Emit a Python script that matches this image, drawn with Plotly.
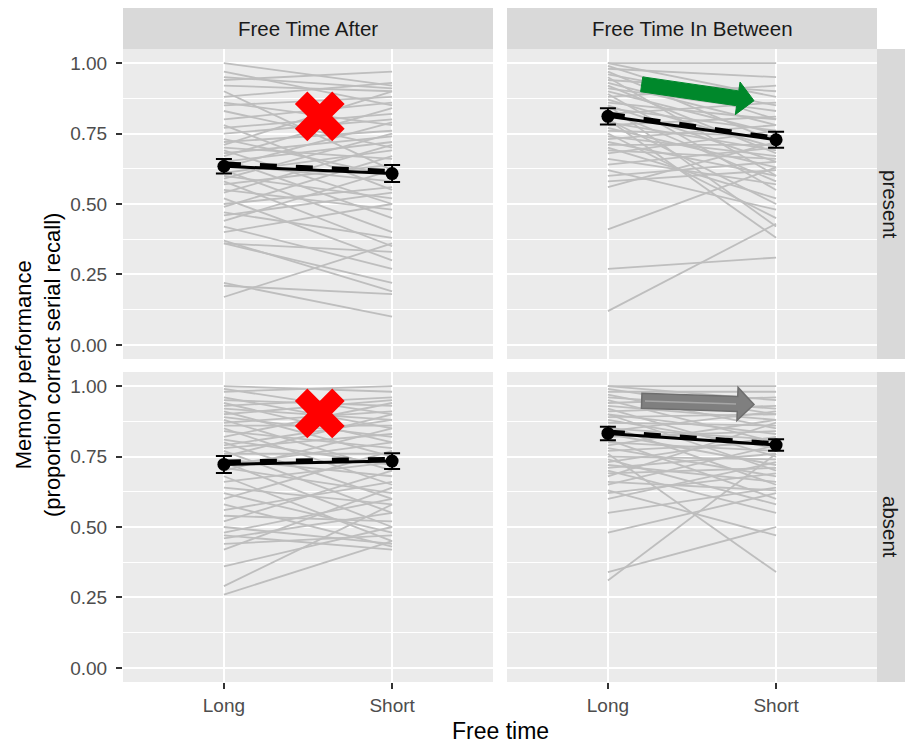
import math
import plotly.graph_objects as go

# ---------------- data ----------------
free_time = ["Long", "Short"]
conditions = ["Free Time After", "Free Time In Between"]
distractor = ["present", "absent"]
y_ticks = [0.0, 0.25, 0.5, 0.75, 1.0]
y_ticktext = ["0.00", "0.25", "0.50", "0.75", "1.00"]
y_minor = [0.125, 0.375, 0.625, 0.875]

# individual participants: proportion correct (Long, Short)
after_present_long = [1.00, 0.97, 0.95, 0.94, 0.92, 0.90, 0.88, 0.86, 0.85, 0.83, 0.80, 0.78, 0.77, 0.75, 0.73,
                      0.72, 0.71, 0.70, 0.69, 0.68, 0.67, 0.66, 0.65, 0.64, 0.63, 0.62, 0.61, 0.60, 0.59, 0.58,
                      0.57, 0.55, 0.54, 0.52, 0.50, 0.49, 0.47, 0.46, 0.44, 0.42, 0.40, 0.37, 0.36, 0.36, 0.21,
                      0.17, 0.22]
after_present_short = [0.92, 0.85, 0.91, 0.97, 0.90, 0.62, 0.93, 0.78, 0.88, 0.70, 0.86, 0.55, 0.82, 0.80, 0.60,
                       0.76, 0.90, 0.66, 0.50, 0.74, 0.84, 0.45, 0.72, 0.58, 0.79, 0.40, 0.69, 0.52, 0.75, 0.35,
                       0.64, 0.48, 0.71, 0.30, 0.56, 0.67, 0.38, 0.54, 0.62, 0.27, 0.50, 0.19, 0.33, 0.22, 0.18,
                       0.36, 0.10]

between_present_long = [1.00, 1.00, 0.99, 0.98, 0.97, 0.96, 0.95, 0.94, 0.93, 0.92, 0.91, 0.90, 0.89, 0.88, 0.87,
                        0.86, 0.85, 0.84, 0.83, 0.82, 0.81, 0.80, 0.79, 0.78, 0.77, 0.76, 0.75, 0.74, 0.73, 0.72,
                        0.71, 0.70, 0.69, 0.68, 0.66, 0.64, 0.62, 0.60, 0.58, 0.56, 0.41, 0.27, 0.12, 0.80, 0.85]
between_present_short = [1.00, 0.88, 0.80, 0.95, 0.72, 0.85, 0.60, 0.90, 0.78, 0.68, 0.83, 0.75, 0.55, 0.92, 0.70,
                         0.80, 0.65, 0.76, 0.58, 0.86, 0.73, 0.50, 0.69, 0.81, 0.63, 0.74, 0.45, 0.67, 0.78, 0.60,
                         0.71, 0.52, 0.66, 0.76, 0.57, 0.70, 0.48, 0.65, 0.62, 0.72, 0.63, 0.31, 0.43, 0.38, 0.42]

after_absent_long = [1.00, 0.99, 0.98, 0.96, 0.95, 0.94, 0.93, 0.92, 0.91, 0.90, 0.89, 0.88, 0.87, 0.86, 0.85,
                     0.84, 0.82, 0.81, 0.80, 0.79, 0.78, 0.77, 0.76, 0.75, 0.74, 0.73, 0.72, 0.71, 0.70, 0.68,
                     0.66, 0.64, 0.62, 0.60, 0.58, 0.56, 0.54, 0.52, 0.50, 0.48, 0.47, 0.46, 0.44, 0.42, 0.36,
                     0.29, 0.26]
after_absent_short = [0.98, 0.90, 1.00, 0.85, 0.93, 0.80, 0.96, 0.88, 0.75, 0.95, 0.82, 0.70, 0.91, 0.86, 0.65,
                      0.78, 0.94, 0.72, 0.60, 0.88, 0.83, 0.55, 0.76, 0.90, 0.68, 0.50, 0.80, 0.62, 0.85, 0.45,
                      0.73, 0.58, 0.48, 0.77, 0.43, 0.66, 0.52, 0.70, 0.44, 0.60, 0.42, 0.55, 0.47, 0.64, 0.50,
                      0.58, 0.45]

between_absent_long = [1.00, 1.00, 0.99, 0.98, 0.97, 0.96, 0.95, 0.94, 0.93, 0.92, 0.91, 0.90, 0.90, 0.89, 0.88,
                       0.87, 0.86, 0.85, 0.84, 0.83, 0.82, 0.81, 0.80, 0.79, 0.78, 0.77, 0.76, 0.75, 0.74, 0.73,
                       0.72, 0.71, 0.70, 0.69, 0.68, 0.66, 0.65, 0.63, 0.62, 0.60, 0.55, 0.48, 0.34, 0.31]
between_absent_short = [1.00, 0.95, 0.90, 0.98, 0.85, 0.92, 0.80, 0.96, 0.88, 0.75, 0.93, 0.83, 0.70, 0.90, 0.78,
                        0.86, 0.65, 0.81, 0.91, 0.72, 0.84, 0.60, 0.77, 0.88, 0.68, 0.80, 0.34, 0.74, 0.58, 0.82,
                        0.66, 0.76, 0.55, 0.71, 0.87, 0.63, 0.79, 0.47, 0.69, 0.73, 0.64, 0.62, 0.50, 0.76]

# condition means (Long, Short), standard errors, and model fit (dashed)
mean_after_present = [0.634, 0.608]
se_after_present = [0.026, 0.030]
fit_after_present = [0.643, 0.616]
mean_between_present = [0.811, 0.728]
se_between_present = [0.029, 0.028]
fit_between_present = [0.820, 0.734]
mean_after_absent = [0.722, 0.734]
se_after_absent = [0.030, 0.028]
fit_after_absent = [0.731, 0.741]
mean_between_absent = [0.832, 0.791]
se_between_absent = [0.024, 0.020]
fit_between_absent = [0.838, 0.796]

# red "no effect" crosses (x position between Long/Short, y value)
cross_x = [1.57, 1.57]
cross_y = [0.811, 0.903]

# ---------------- layout geometry (pixels) ----------------
W, H = 905, 744
ML, MR, MT, MB = 123, 0, 8, 62
PW, PH = W - ML - MR, H - MT - MB


def px(x):
    return (x - ML) / PW


def py(y):
    return (H - MB - y) / PH


col_dom = [[px(123), px(493)], [px(507), px(877)]]
row_dom = [[py(359), py(49)], [py(682), py(372)]]
strip_right = [px(877), px(905)]
strip_top = [py(49), py(8)]

FONT = "Liberation Sans, Arial, sans-serif"
GREY_LINE = "rgb(190,190,190)"
TICK_SIZE = 19
STRIP_SIZE = 20.5
TITLE_SIZE = 22

panels = [
    ("x", "y", after_present_long, after_present_short, mean_after_present, se_after_present, fit_after_present),
    ("x2", "y2", between_present_long, between_present_short, mean_between_present, se_between_present, fit_between_present),
    ("x3", "y3", after_absent_long, after_absent_short, mean_after_absent, se_after_absent, fit_after_absent),
    ("x4", "y4", between_absent_long, between_absent_short, mean_between_absent, se_between_absent, fit_between_absent),
]

fig = go.Figure()
xpos = [1, 2]
for xa, ya, lg, sh, mn, se, ft in panels:
    xs, ys = [], []
    for a, b in zip(lg, sh):
        xs += [xpos[0], xpos[1], None]
        ys += [a, b, None]
    fig.add_trace(go.Scatter(x=xs, y=ys, mode="lines", xaxis=xa, yaxis=ya,
                             line=dict(color=GREY_LINE, width=1.8), hoverinfo="skip"))
    fig.add_trace(go.Scatter(x=xpos, y=mn, mode="lines+markers", xaxis=xa, yaxis=ya,
                             line=dict(color="black", width=3),
                             marker=dict(color="black", size=13),
                             error_y=dict(type="data", array=se, color="black", thickness=2, width=8)))
    fig.add_trace(go.Scatter(x=xpos, y=ft, mode="lines", xaxis=xa, yaxis=ya,
                             line=dict(color="black", width=4.5, dash="17px,19px")))

# red crosses in the "Free Time After" panels
fig.add_trace(go.Scatter(x=[cross_x[0]], y=[cross_y[0]], xaxis="x", yaxis="y", mode="markers",
                         marker=dict(symbol="x", size=44, color="#FF0000", line=dict(width=0))))
fig.add_trace(go.Scatter(x=[cross_x[1]], y=[cross_y[1]], xaxis="x3", yaxis="y3", mode="markers",
                         marker=dict(symbol="x", size=44, color="#FF0000", line=dict(width=0))))


def arrow_path(tail, tip, w=7.5, hw=16.5, hl=16.5):
    dx, dy = tip[0] - tail[0], tip[1] - tail[1]
    ln = math.hypot(dx, dy)
    ux, uy = dx / ln, dy / ln
    nx, ny = -uy, ux
    bx, by = tip[0] - ux * hl, tip[1] - uy * hl
    pts = [
        (tail[0] + nx * w, tail[1] + ny * w),
        (bx + nx * w, by + ny * w),
        (bx + nx * hw, by + ny * hw),
        tip,
        (bx - nx * hw, by - ny * hw),
        (bx - nx * w, by - ny * w),
        (tail[0] - nx * w, tail[1] - ny * w),
    ]
    return "M " + " L ".join(f"{px(x):.5f},{py(y):.5f}" for x, y in pts) + " Z"


shapes = []
# panel strips
for c in range(2):
    shapes.append(dict(type="rect", xref="paper", yref="paper", x0=col_dom[c][0], x1=col_dom[c][1],
                       y0=strip_top[0], y1=strip_top[1], fillcolor="#D9D9D9", line=dict(width=0), layer="below"))
for r in range(2):
    shapes.append(dict(type="rect", xref="paper", yref="paper", x0=strip_right[0], x1=strip_right[1],
                       y0=row_dom[r][0], y1=row_dom[r][1], fillcolor="#D9D9D9", line=dict(width=0), layer="below"))

# green arrow (present, in-between) and grey arrow (absent, in-between)
shapes.append(dict(type="path", xref="paper", yref="paper",
                   path=arrow_path((641.7, 84.3), (754.0, 100.7)),
                   fillcolor="#00882B", line=dict(color="#00882B", width=1)))
shapes.append(dict(type="path", xref="paper", yref="paper",
                   path=arrow_path((641.7, 400.7), (754.0, 404.5)),
                   fillcolor="#7F7F7F", line=dict(color="#6E6E6E", width=1.5)))
shapes.append(dict(type="line", xref="paper", yref="paper", x0=px(645), y0=py(400.9), x1=px(736), y1=py(403.9),
                   line=dict(color="#A6A6A6", width=1.5)))

annotations = []
for c in range(2):
    annotations.append(dict(text=conditions[c], xref="paper", yref="paper",
                            x=(col_dom[c][0] + col_dom[c][1]) / 2, y=(strip_top[0] + strip_top[1]) / 2,
                            showarrow=False, font=dict(family=FONT, size=STRIP_SIZE, color="#1A1A1A"),
                            xanchor="center", yanchor="middle"))
for r in range(2):
    annotations.append(dict(text=distractor[r], xref="paper", yref="paper",
                            x=(strip_right[0] + strip_right[1]) / 2, y=(row_dom[r][0] + row_dom[r][1]) / 2,
                            showarrow=False, textangle=90,
                            font=dict(family=FONT, size=STRIP_SIZE, color="#1A1A1A"),
                            xanchor="center", yanchor="middle"))
annotations.append(dict(text="Free time", xref="paper", yref="paper", x=px(500), y=py(731),
                        showarrow=False, font=dict(family=FONT, size=TITLE_SIZE + 1, color="black"),
                        xanchor="center", yanchor="middle"))
annotations.append(dict(text="Memory performance<br>(proportion correct serial recall)", xref="paper",
                        yref="paper", x=px(38), y=py(365), showarrow=False, textangle=-90,
                        font=dict(family=FONT, size=TITLE_SIZE, color="black"), xanchor="center",
                        yanchor="middle"))

layout = dict(
    width=W, height=H, margin=dict(l=ML, r=MR, t=MT, b=MB),
    paper_bgcolor="white", plot_bgcolor="#EBEBEB", showlegend=False,
    font=dict(family=FONT, size=TICK_SIZE, color="#4D4D4D"),
    shapes=shapes, annotations=annotations,
)

axis_names = [("xaxis", "yaxis", "y", "x"), ("xaxis2", "yaxis2", "y2", "x2"),
              ("xaxis3", "yaxis3", "y3", "x3"), ("xaxis4", "yaxis4", "y4", "x4")]
for i, (xn, yn, yanc, xanc) in enumerate(axis_names):
    r, c = divmod(i, 2)
    bottom = r == 1
    left = c == 0
    layout[xn] = dict(domain=col_dom[c], anchor=yanc, range=[0.4, 2.6], tickvals=xpos, ticktext=free_time,
                      showgrid=True, gridcolor="white", gridwidth=2, zeroline=False, showline=False,
                      ticks="outside" if bottom else "", ticklen=6, tickwidth=1.5, tickcolor="#333333",
                      showticklabels=bottom, tickfont=dict(family=FONT, size=TICK_SIZE, color="#4D4D4D"))
    layout[yn] = dict(domain=row_dom[r], anchor=xanc, range=[-0.05, 1.05], tickvals=y_ticks,
                      ticktext=y_ticktext, showgrid=True, gridcolor="white", gridwidth=2, zeroline=False,
                      showline=False, ticks="outside" if left else "", ticklen=6, tickwidth=1.5,
                      tickcolor="#333333", showticklabels=left, ticklabelstandoff=5,
                      tickfont=dict(family=FONT, size=TICK_SIZE, color="#4D4D4D"),
                      minor=dict(tickvals=y_minor, showgrid=True, gridcolor="white", gridwidth=1, ticks=""))

fig.update_layout(**layout)
fig.write_html("out.html", config={"displayModeBar": False},
               post_script="document.body.style.margin='0';document.body.style.overflow='hidden';")
